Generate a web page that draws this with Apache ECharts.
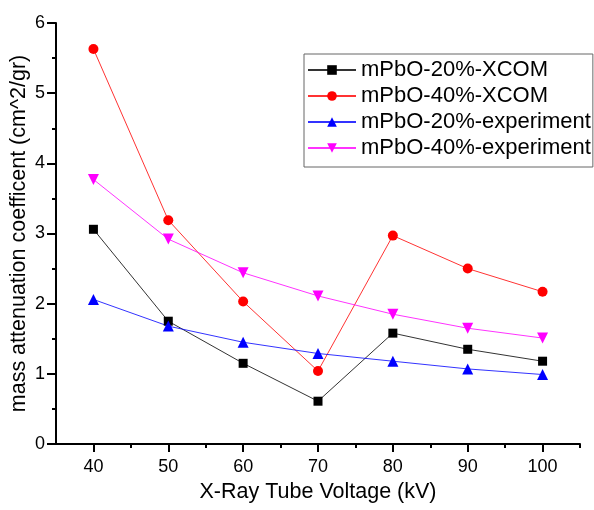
<!DOCTYPE html>
<html>
<head>
<meta charset="utf-8">
<script src="https://cdn.jsdelivr.net/npm/echarts@6/dist/echarts.min.js"></script>
<style>
  html, body { margin: 0; padding: 0; background: #fff; }
  #main { width: 594px; height: 510px; }
</style>
</head>
<body>
<div id="main"></div>
<script>
// tube voltage (kV)
var voltages = [40, 50, 60, 70, 80, 90, 100];
// mass attenuation coefficient (cm^2/gr)
var pbo20Xcom = [3.06, 1.75, 1.15, 0.61, 1.58, 1.35, 1.18];
var pbo40Xcom = [5.63, 3.19, 2.03, 1.04, 2.97, 2.50, 2.17];
var pbo20Exp = [2.06, 1.68, 1.45, 1.29, 1.18, 1.07, 0.99];
var pbo40Exp = [3.77, 2.92, 2.44, 2.11, 1.85, 1.65, 1.51];
var majorTicks = [40, 50, 60, 70, 80, 90, 100];
var minorTicks = [45, 55, 65, 75, 85, 95, 105];

var FONT = '"Liberation Sans", Arial, sans-serif';

function pairs(vals) {
    return voltages.map(function (v, i) { return [v, vals[i]]; });
}

function makeSeries(name, vals, color, symbol, size) {
    return {
        name: name,
        type: 'line',
        data: pairs(vals),
        symbol: symbol,
        symbolSize: size,
        lineStyle: { color: color, width: 1, opacity: 0.8 },
        itemStyle: { color: color },
        animation: false
    };
}

var myChart = echarts.init(document.getElementById('main'));

var option = {
    backgroundColor: '#fff',
    grid: { left: 56, right: 14, top: 23, bottom: 66, outerBoundsMode: 'none', containLabel: false },
    legend: {
        orient: 'vertical',
        left: 304,
        top: 54,
        padding: [5, 2, 8, 3],
        itemWidth: 48,
        itemHeight: 12,
        itemGap: 4,
        borderColor: '#666',
        borderWidth: 1,
        textStyle: { fontFamily: FONT, fontSize: 22, color: '#000', lineHeight: 22 },
        data: ['mPbO-20%-XCOM', 'mPbO-40%-XCOM', 'mPbO-20%-experiment', 'mPbO-40%-experiment']
    },
    xAxis: [{
        type: 'value',
        min: 35,
        max: 105,
        name: 'X-Ray Tube Voltage (kV)',
        nameLocation: 'middle',
        nameGap: 37,
        nameTextStyle: { fontFamily: FONT, fontSize: 21.5, color: '#000' },
        axisLine: { lineStyle: { color: '#000', width: 2 } },
        axisTick: { customValues: majorTicks, length: 8, lineStyle: { color: '#000', width: 2 } },
        axisLabel: { customValues: majorTicks, margin: 14, fontFamily: FONT, fontSize: 18, color: '#000' },
        splitLine: { show: false }
    }, {
        type: 'value',
        min: 35,
        max: 105,
        position: 'bottom',
        axisLine: { show: false },
        axisTick: { customValues: minorTicks, length: 4, lineStyle: { color: '#000', width: 2 } },
        axisLabel: { show: false },
        splitLine: { show: false }
    }],
    yAxis: {
        type: 'value',
        min: 0,
        max: 6,
        interval: 1,
        name: 'mass attenuation coefficent (cm^2/gr)',
        nameLocation: 'middle',
        nameGap: 26,
        nameMoveOverlap: false,
        nameTextStyle: { fontFamily: FONT, fontSize: 21.5, color: '#000' },
        axisLine: { show: true, lineStyle: { color: '#000', width: 2 } },
        axisTick: { show: true, length: 9, lineStyle: { color: '#000', width: 2 } },
        minorTick: { show: true, splitNumber: 2, length: 4, lineStyle: { color: '#000', width: 2 } },
        axisLabel: { margin: 11, fontFamily: FONT, fontSize: 18, color: '#000' },
        splitLine: { show: false },
        minorSplitLine: { show: false }
    },
    series: [
        makeSeries('mPbO-20%-XCOM', pbo20Xcom, '#000000', 'rect', 9),
        makeSeries('mPbO-40%-XCOM', pbo40Xcom, '#ff0000', 'circle', 10),
        makeSeries('mPbO-20%-experiment', pbo20Exp, '#0000ff', 'triangle', 11),
        makeSeries('mPbO-40%-experiment', pbo40Exp, '#ff00ff', 'path://M0,0 L10,0 L5,10 Z', 11)
    ]
};

myChart.setOption(option);
</script>
</body>
</html>
